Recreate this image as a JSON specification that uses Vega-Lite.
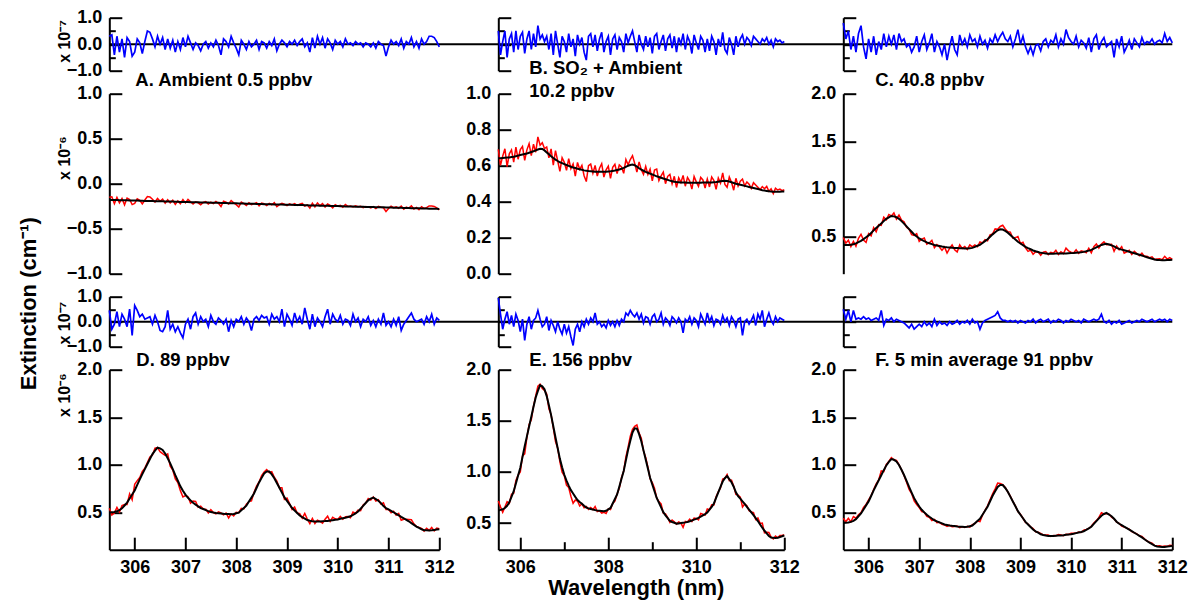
{
"$schema":"https://vega.github.io/schema/vega-lite/v6.json",
"background":"white",
"padding":{"left":17.3,"top":8.7,"right":0,"bottom":8},
"title":{"text":"Extinction (cm⁻¹)","orient":"left","anchor":"middle","fontSize":22,"offset":16},
"config":{
"view":{"stroke":null},
"font":"Liberation Sans",
"axis":{"labelFont":"Liberation Sans","labelFontSize":18,"labelFontWeight":"bold","labelColor":"#000","domainColor":"#000","domainWidth":2,"tickColor":"#000","tickWidth":2,"grid":false,"labelFlush":false,"labelOverlap":false,"tickCount":20,"titleFont":"Liberation Sans","titleFontWeight":"bold","titleColor":"#000"},
"title":{"font":"Liberation Sans","fontSize":18.5,"fontWeight":"bold","color":"#000"}
},
"datasets":{
"A":[
{"w":305.5,"f":-0.180,"r":0.3,"d":-0.150},{"w":305.55,"f":-0.181,"r":0.35,"d":-0.146},{"w":305.6,"f":-0.182,"r":-0.4,"d":-0.222},{"w":305.65,"f":-0.182,"r":0.3,"d":-0.152},{"w":305.7,"f":-0.183,"r":-0.3,"d":-0.213},{"w":305.75,"f":-0.184,"r":0.2,"d":-0.164},{"w":305.8,"f":-0.185,"r":-0.5,"d":-0.235},{"w":305.85,"f":-0.185,"r":0.25,"d":-0.160},{"w":305.9,"f":-0.186,"r":0.1,"d":-0.176},{"w":305.95,"f":-0.187,"r":-0.45,"d":-0.232},
{"w":306,"f":-0.188,"r":-0.3,"d":-0.218},{"w":306.05,"f":-0.188,"r":0.2,"d":-0.168},{"w":306.1,"f":-0.189,"r":0.05,"d":-0.184},{"w":306.15,"f":-0.190,"r":-0.35,"d":-0.225},{"w":306.2,"f":-0.191,"r":0.1,"d":-0.181},{"w":306.25,"f":-0.192,"r":0.5,"d":-0.142},{"w":306.3,"f":-0.192,"r":0.45,"d":-0.147},{"w":306.35,"f":-0.193,"r":0.2,"d":-0.173},{"w":306.4,"f":-0.194,"r":-0.1,"d":-0.204},{"w":306.45,"f":-0.195,"r":0.3,"d":-0.165},
{"w":306.5,"f":-0.195,"r":0.0,"d":-0.195},{"w":306.55,"f":-0.196,"r":0.25,"d":-0.171},{"w":306.6,"f":-0.197,"r":-0.2,"d":-0.217},{"w":306.65,"f":-0.198,"r":0.2,"d":-0.178},{"w":306.7,"f":-0.198,"r":-0.15,"d":-0.213},{"w":306.75,"f":-0.199,"r":0.15,"d":-0.184},{"w":306.8,"f":-0.200,"r":-0.3,"d":-0.230},{"w":306.85,"f":-0.201,"r":0.1,"d":-0.191},{"w":306.9,"f":-0.202,"r":-0.2,"d":-0.222},{"w":306.95,"f":-0.202,"r":0.25,"d":-0.177},
{"w":307,"f":-0.203,"r":-0.1,"d":-0.213},{"w":307.05,"f":-0.204,"r":0.3,"d":-0.174},{"w":307.1,"f":-0.205,"r":0.05,"d":-0.200},{"w":307.15,"f":-0.205,"r":-0.2,"d":-0.225},{"w":307.2,"f":-0.206,"r":0.05,"d":-0.201},{"w":307.25,"f":-0.207,"r":-0.05,"d":-0.212},{"w":307.3,"f":-0.208,"r":-0.25,"d":-0.233},{"w":307.35,"f":-0.208,"r":0.0,"d":-0.208},{"w":307.4,"f":-0.209,"r":0.1,"d":-0.199},{"w":307.45,"f":-0.210,"r":-0.15,"d":-0.225},
{"w":307.5,"f":-0.211,"r":0.05,"d":-0.206},{"w":307.55,"f":-0.212,"r":-0.1,"d":-0.222},{"w":307.6,"f":-0.212,"r":0.15,"d":-0.197},{"w":307.65,"f":-0.213,"r":-0.05,"d":-0.218},{"w":307.7,"f":-0.214,"r":-0.4,"d":-0.254},{"w":307.75,"f":-0.215,"r":0.2,"d":-0.195},{"w":307.8,"f":-0.215,"r":0.1,"d":-0.205},{"w":307.85,"f":-0.216,"r":-0.1,"d":-0.226},{"w":307.9,"f":-0.217,"r":0.3,"d":-0.187},{"w":307.95,"f":-0.218,"r":0.05,"d":-0.213},
{"w":308,"f":-0.218,"r":-0.15,"d":-0.233},{"w":308.05,"f":-0.219,"r":-0.4,"d":-0.259},{"w":308.1,"f":-0.220,"r":0.15,"d":-0.205},{"w":308.15,"f":-0.221,"r":0.0,"d":-0.221},{"w":308.2,"f":-0.222,"r":-0.2,"d":-0.242},{"w":308.25,"f":-0.222,"r":0.1,"d":-0.212},{"w":308.3,"f":-0.223,"r":-0.1,"d":-0.233},{"w":308.35,"f":-0.224,"r":0.0,"d":-0.224},{"w":308.4,"f":-0.225,"r":0.15,"d":-0.210},{"w":308.45,"f":-0.225,"r":-0.2,"d":-0.245},
{"w":308.5,"f":-0.226,"r":0.1,"d":-0.216},{"w":308.55,"f":-0.227,"r":0.05,"d":-0.222},{"w":308.6,"f":-0.228,"r":-0.15,"d":-0.243},{"w":308.65,"f":-0.228,"r":0.1,"d":-0.218},{"w":308.7,"f":-0.229,"r":-0.05,"d":-0.234},{"w":308.75,"f":-0.230,"r":0.2,"d":-0.210},{"w":308.8,"f":-0.231,"r":-0.25,"d":-0.256},{"w":308.85,"f":-0.232,"r":0.0,"d":-0.232},{"w":308.9,"f":-0.232,"r":0.15,"d":-0.217},{"w":308.95,"f":-0.233,"r":0.05,"d":-0.228},
{"w":309,"f":-0.234,"r":-0.1,"d":-0.244},{"w":309.05,"f":-0.235,"r":0.1,"d":-0.225},{"w":309.1,"f":-0.235,"r":0.0,"d":-0.235},{"w":309.15,"f":-0.236,"r":0.15,"d":-0.221},{"w":309.2,"f":-0.237,"r":-0.05,"d":-0.242},{"w":309.25,"f":-0.238,"r":0.1,"d":-0.228},{"w":309.3,"f":-0.238,"r":0.2,"d":-0.218},{"w":309.35,"f":-0.239,"r":-0.1,"d":-0.249},{"w":309.4,"f":-0.240,"r":0.05,"d":-0.235},{"w":309.45,"f":-0.241,"r":-0.3,"d":-0.271},
{"w":309.5,"f":-0.242,"r":0.25,"d":-0.217},{"w":309.55,"f":-0.242,"r":-0.15,"d":-0.257},{"w":309.6,"f":-0.243,"r":0.3,"d":-0.213},{"w":309.65,"f":-0.244,"r":0.0,"d":-0.244},{"w":309.7,"f":-0.245,"r":0.25,"d":-0.220},{"w":309.75,"f":-0.245,"r":-0.15,"d":-0.260},{"w":309.8,"f":-0.246,"r":0.2,"d":-0.226},{"w":309.85,"f":-0.247,"r":0.05,"d":-0.242},{"w":309.9,"f":-0.248,"r":-0.2,"d":-0.268},{"w":309.95,"f":-0.248,"r":0.15,"d":-0.233},
{"w":310,"f":-0.249,"r":0.0,"d":-0.249},{"w":310.05,"f":-0.250,"r":0.1,"d":-0.240},{"w":310.1,"f":-0.251,"r":-0.1,"d":-0.261},{"w":310.15,"f":-0.252,"r":0.2,"d":-0.232},{"w":310.2,"f":-0.252,"r":0.0,"d":-0.252},{"w":310.25,"f":-0.253,"r":0.05,"d":-0.248},{"w":310.3,"f":-0.254,"r":-0.05,"d":-0.259},{"w":310.35,"f":-0.255,"r":0.1,"d":-0.245},{"w":310.4,"f":-0.255,"r":0.0,"d":-0.255},{"w":310.45,"f":-0.256,"r":0.05,"d":-0.251},
{"w":310.5,"f":-0.257,"r":-0.1,"d":-0.267},{"w":310.55,"f":-0.258,"r":0.05,"d":-0.253},{"w":310.6,"f":-0.258,"r":0.0,"d":-0.258},{"w":310.65,"f":-0.259,"r":-0.1,"d":-0.269},{"w":310.7,"f":-0.260,"r":0.05,"d":-0.255},{"w":310.75,"f":-0.261,"r":-0.15,"d":-0.276},{"w":310.8,"f":-0.262,"r":0.1,"d":-0.252},{"w":310.85,"f":-0.262,"r":0.0,"d":-0.262},{"w":310.9,"f":-0.263,"r":-0.05,"d":-0.268},{"w":310.95,"f":-0.264,"r":-0.45,"d":-0.309},
{"w":311,"f":-0.265,"r":-0.1,"d":-0.275},{"w":311.05,"f":-0.265,"r":0.15,"d":-0.250},{"w":311.1,"f":-0.266,"r":0.0,"d":-0.266},{"w":311.15,"f":-0.267,"r":0.1,"d":-0.257},{"w":311.2,"f":-0.268,"r":-0.05,"d":-0.273},{"w":311.25,"f":-0.268,"r":0.2,"d":-0.248},{"w":311.3,"f":-0.269,"r":-0.15,"d":-0.284},{"w":311.35,"f":-0.270,"r":0.1,"d":-0.260},{"w":311.4,"f":-0.271,"r":0.0,"d":-0.271},{"w":311.45,"f":-0.272,"r":0.25,"d":-0.247},
{"w":311.5,"f":-0.272,"r":-0.1,"d":-0.282},{"w":311.55,"f":-0.273,"r":0.1,"d":-0.263},{"w":311.6,"f":-0.274,"r":-0.15,"d":-0.289},{"w":311.65,"f":-0.275,"r":0.2,"d":-0.255},{"w":311.7,"f":-0.275,"r":0.0,"d":-0.275},{"w":311.75,"f":-0.276,"r":0.1,"d":-0.266},{"w":311.8,"f":-0.277,"r":0.3,"d":-0.247},{"w":311.85,"f":-0.278,"r":0.3,"d":-0.248},{"w":311.9,"f":-0.278,"r":0.25,"d":-0.253},{"w":311.95,"f":-0.279,"r":0.1,"d":-0.269},
{"w":312,"f":-0.280,"r":-0.1,"d":-0.290}
],
"B":[
{"w":305.5,"f":0.641,"r":0.5,"d":0.691},{"w":305.55,"f":0.642,"r":-0.4,"d":0.602},{"w":305.6,"f":0.643,"r":0.1,"d":0.653},{"w":305.65,"f":0.644,"r":0.5,"d":0.694},{"w":305.7,"f":0.645,"r":-0.5,"d":0.595},{"w":305.75,"f":0.646,"r":0.2,"d":0.666},{"w":305.8,"f":0.648,"r":0.4,"d":0.688},{"w":305.85,"f":0.650,"r":-0.3,"d":0.620},{"w":305.9,"f":0.653,"r":0.5,"d":0.703},{"w":305.95,"f":0.656,"r":-0.2,"d":0.636},
{"w":306,"f":0.659,"r":0.3,"d":0.689},{"w":306.05,"f":0.662,"r":0.45,"d":0.707},{"w":306.1,"f":0.665,"r":-0.35,"d":0.630},{"w":306.15,"f":0.668,"r":0.2,"d":0.688},{"w":306.2,"f":0.672,"r":0.5,"d":0.722},{"w":306.25,"f":0.676,"r":-0.2,"d":0.656},{"w":306.3,"f":0.680,"r":0.4,"d":0.720},{"w":306.35,"f":0.685,"r":-0.1,"d":0.675},{"w":306.4,"f":0.690,"r":0.7,"d":0.760},{"w":306.45,"f":0.694,"r":0.2,"d":0.714},
{"w":306.5,"f":0.693,"r":0.35,"d":0.728},{"w":306.55,"f":0.685,"r":0.1,"d":0.695},{"w":306.6,"f":0.674,"r":0.3,"d":0.704},{"w":306.65,"f":0.664,"r":-0.2,"d":0.644},{"w":306.7,"f":0.653,"r":0.4,"d":0.693},{"w":306.75,"f":0.643,"r":-0.4,"d":0.603},{"w":306.8,"f":0.634,"r":0.5,"d":0.684},{"w":306.85,"f":0.626,"r":0.0,"d":0.626},{"w":306.9,"f":0.619,"r":-0.5,"d":0.569},{"w":306.95,"f":0.614,"r":0.3,"d":0.644},
{"w":307,"f":0.609,"r":0.1,"d":0.619},{"w":307.05,"f":0.604,"r":-0.3,"d":0.574},{"w":307.1,"f":0.599,"r":0.4,"d":0.639},{"w":307.15,"f":0.594,"r":-0.1,"d":0.584},{"w":307.2,"f":0.590,"r":0.2,"d":0.610},{"w":307.25,"f":0.587,"r":-0.45,"d":0.542},{"w":307.3,"f":0.583,"r":0.35,"d":0.618},{"w":307.35,"f":0.580,"r":0.0,"d":0.580},{"w":307.4,"f":0.577,"r":0.25,"d":0.602},{"w":307.45,"f":0.574,"r":-0.3,"d":0.544},
{"w":307.5,"f":0.572,"r":-0.6,"d":0.512},{"w":307.55,"f":0.570,"r":0.3,"d":0.600},{"w":307.6,"f":0.569,"r":0.4,"d":0.609},{"w":307.65,"f":0.568,"r":-0.1,"d":0.558},{"w":307.7,"f":0.567,"r":0.35,"d":0.602},{"w":307.75,"f":0.567,"r":-0.25,"d":0.542},{"w":307.8,"f":0.566,"r":0.2,"d":0.586},{"w":307.85,"f":0.566,"r":0.45,"d":0.611},{"w":307.9,"f":0.567,"r":-0.3,"d":0.537},{"w":307.95,"f":0.567,"r":0.1,"d":0.577},
{"w":308,"f":0.568,"r":0.3,"d":0.598},{"w":308.05,"f":0.569,"r":-0.4,"d":0.529},{"w":308.1,"f":0.571,"r":0.2,"d":0.591},{"w":308.15,"f":0.573,"r":0.35,"d":0.608},{"w":308.2,"f":0.576,"r":-0.2,"d":0.556},{"w":308.25,"f":0.579,"r":0.25,"d":0.604},{"w":308.3,"f":0.583,"r":0.1,"d":0.593},{"w":308.35,"f":0.588,"r":-0.3,"d":0.558},{"w":308.4,"f":0.594,"r":0.4,"d":0.634},{"w":308.45,"f":0.600,"r":0.05,"d":0.605},
{"w":308.5,"f":0.604,"r":0.3,"d":0.634},{"w":308.55,"f":0.606,"r":0.5,"d":0.656},{"w":308.6,"f":0.603,"r":0.1,"d":0.613},{"w":308.65,"f":0.595,"r":-0.3,"d":0.565},{"w":308.7,"f":0.586,"r":0.35,"d":0.621},{"w":308.75,"f":0.578,"r":0.0,"d":0.578},{"w":308.8,"f":0.572,"r":-0.2,"d":0.552},{"w":308.85,"f":0.566,"r":0.3,"d":0.596},{"w":308.9,"f":0.561,"r":-0.1,"d":0.551},{"w":308.95,"f":0.556,"r":0.25,"d":0.581},
{"w":309,"f":0.551,"r":-0.35,"d":0.516},{"w":309.05,"f":0.546,"r":0.3,"d":0.576},{"w":309.1,"f":0.541,"r":0.4,"d":0.581},{"w":309.15,"f":0.537,"r":-0.2,"d":0.517},{"w":309.2,"f":0.533,"r":0.1,"d":0.543},{"w":309.25,"f":0.529,"r":0.35,"d":0.564},{"w":309.3,"f":0.525,"r":-0.25,"d":0.500},{"w":309.35,"f":0.521,"r":0.2,"d":0.541},{"w":309.4,"f":0.517,"r":0.35,"d":0.552},{"w":309.45,"f":0.514,"r":-0.15,"d":0.499},
{"w":309.5,"f":0.511,"r":0.3,"d":0.541},{"w":309.55,"f":0.509,"r":-0.3,"d":0.479},{"w":309.6,"f":0.508,"r":0.25,"d":0.533},{"w":309.65,"f":0.507,"r":0.0,"d":0.507},{"w":309.7,"f":0.506,"r":0.4,"d":0.546},{"w":309.75,"f":0.506,"r":-0.2,"d":0.486},{"w":309.8,"f":0.505,"r":0.3,"d":0.535},{"w":309.85,"f":0.505,"r":0.1,"d":0.515},{"w":309.9,"f":0.505,"r":-0.35,"d":0.470},{"w":309.95,"f":0.505,"r":0.35,"d":0.540},
{"w":310,"f":0.505,"r":0.05,"d":0.510},{"w":310.05,"f":0.505,"r":-0.2,"d":0.485},{"w":310.1,"f":0.505,"r":0.3,"d":0.535},{"w":310.15,"f":0.506,"r":0.15,"d":0.521},{"w":310.2,"f":0.506,"r":-0.3,"d":0.476},{"w":310.25,"f":0.506,"r":0.2,"d":0.526},{"w":310.3,"f":0.507,"r":-0.25,"d":0.482},{"w":310.35,"f":0.507,"r":0.3,"d":0.537},{"w":310.4,"f":0.508,"r":0.1,"d":0.518},{"w":310.45,"f":0.509,"r":-0.4,"d":0.469},
{"w":310.5,"f":0.511,"r":0.2,"d":0.531},{"w":310.55,"f":0.513,"r":-0.1,"d":0.503},{"w":310.6,"f":0.515,"r":0.45,"d":0.560},{"w":310.65,"f":0.516,"r":-0.2,"d":0.496},{"w":310.7,"f":0.515,"r":-0.35,"d":0.480},{"w":310.75,"f":0.512,"r":0.25,"d":0.537},{"w":310.8,"f":0.508,"r":0.0,"d":0.508},{"w":310.85,"f":0.504,"r":-0.4,"d":0.464},{"w":310.9,"f":0.500,"r":0.3,"d":0.530},{"w":310.95,"f":0.497,"r":-0.1,"d":0.487},
{"w":311,"f":0.494,"r":0.2,"d":0.514},{"w":311.05,"f":0.491,"r":0.35,"d":0.526},{"w":311.1,"f":0.488,"r":0.0,"d":0.488},{"w":311.15,"f":0.485,"r":0.25,"d":0.510},{"w":311.2,"f":0.482,"r":0.15,"d":0.497},{"w":311.25,"f":0.479,"r":-0.05,"d":0.474},{"w":311.3,"f":0.476,"r":0.3,"d":0.506},{"w":311.35,"f":0.473,"r":0.2,"d":0.493},{"w":311.4,"f":0.470,"r":0.1,"d":0.480},{"w":311.45,"f":0.467,"r":0.0,"d":0.467},
{"w":311.5,"f":0.464,"r":0.2,"d":0.484},{"w":311.55,"f":0.462,"r":0.1,"d":0.472},{"w":311.6,"f":0.460,"r":0.25,"d":0.485},{"w":311.65,"f":0.458,"r":0.0,"d":0.458},{"w":311.7,"f":0.456,"r":0.15,"d":0.471},{"w":311.75,"f":0.455,"r":-0.1,"d":0.445},{"w":311.8,"f":0.455,"r":0.2,"d":0.475},{"w":311.85,"f":0.455,"r":0.1,"d":0.465},{"w":311.9,"f":0.455,"r":0.15,"d":0.470},{"w":311.95,"f":0.456,"r":0.05,"d":0.461},
{"w":312,"f":0.456,"r":0.1,"d":0.466}
],
"C":[
{"w":305.5,"f":0.410,"r":0.8,"d":0.490},{"w":305.55,"f":0.411,"r":0.2,"d":0.431},{"w":305.6,"f":0.412,"r":0.5,"d":0.462},{"w":305.65,"f":0.414,"r":-0.2,"d":0.394},{"w":305.7,"f":0.419,"r":0.3,"d":0.449},{"w":305.75,"f":0.428,"r":-0.3,"d":0.398},{"w":305.8,"f":0.441,"r":0.4,"d":0.481},{"w":305.85,"f":0.454,"r":0.7,"d":0.524},{"w":305.9,"f":0.473,"r":-0.1,"d":0.463},{"w":305.95,"f":0.493,"r":-0.55,"d":0.438},
{"w":306,"f":0.512,"r":0.2,"d":0.532},{"w":306.05,"f":0.538,"r":-0.3,"d":0.508},{"w":306.1,"f":0.565,"r":0.3,"d":0.595},{"w":306.15,"f":0.590,"r":-0.4,"d":0.550},{"w":306.2,"f":0.614,"r":0.1,"d":0.624},{"w":306.25,"f":0.638,"r":-0.2,"d":0.618},{"w":306.3,"f":0.663,"r":0.4,"d":0.703},{"w":306.35,"f":0.686,"r":-0.1,"d":0.676},{"w":306.4,"f":0.702,"r":0.3,"d":0.732},{"w":306.45,"f":0.716,"r":0.0,"d":0.716},
{"w":306.5,"f":0.712,"r":0.35,"d":0.747},{"w":306.55,"f":0.703,"r":-0.2,"d":0.683},{"w":306.6,"f":0.686,"r":0.4,"d":0.726},{"w":306.65,"f":0.662,"r":0.1,"d":0.672},{"w":306.7,"f":0.636,"r":0.2,"d":0.656},{"w":306.75,"f":0.607,"r":-0.1,"d":0.597},{"w":306.8,"f":0.578,"r":0.0,"d":0.578},{"w":306.85,"f":0.550,"r":-0.3,"d":0.520},{"w":306.9,"f":0.522,"r":-0.1,"d":0.512},{"w":306.95,"f":0.500,"r":0.3,"d":0.530},
{"w":307,"f":0.480,"r":-0.3,"d":0.450},{"w":307.05,"f":0.464,"r":0.1,"d":0.474},{"w":307.1,"f":0.451,"r":0.35,"d":0.486},{"w":307.15,"f":0.439,"r":-0.2,"d":0.419},{"w":307.2,"f":0.430,"r":0.05,"d":0.435},{"w":307.25,"f":0.420,"r":0.4,"d":0.460},{"w":307.3,"f":0.412,"r":-0.3,"d":0.382},{"w":307.35,"f":0.406,"r":0.1,"d":0.416},{"w":307.4,"f":0.401,"r":-0.1,"d":0.391},{"w":307.45,"f":0.395,"r":-0.4,"d":0.355},
{"w":307.5,"f":0.390,"r":0.0,"d":0.390},{"w":307.55,"f":0.387,"r":-0.6,"d":0.327},{"w":307.6,"f":0.385,"r":-0.1,"d":0.375},{"w":307.65,"f":0.383,"r":0.3,"d":0.413},{"w":307.7,"f":0.381,"r":-0.2,"d":0.361},{"w":307.75,"f":0.379,"r":-0.4,"d":0.339},{"w":307.8,"f":0.377,"r":0.35,"d":0.412},{"w":307.85,"f":0.376,"r":0.0,"d":0.376},{"w":307.9,"f":0.375,"r":0.2,"d":0.395},{"w":307.95,"f":0.375,"r":-0.1,"d":0.365},
{"w":308,"f":0.378,"r":0.35,"d":0.413},{"w":308.05,"f":0.381,"r":0.1,"d":0.391},{"w":308.1,"f":0.392,"r":0.2,"d":0.412},{"w":308.15,"f":0.403,"r":-0.1,"d":0.393},{"w":308.2,"f":0.413,"r":0.3,"d":0.443},{"w":308.25,"f":0.432,"r":0.0,"d":0.432},{"w":308.3,"f":0.452,"r":0.15,"d":0.467},{"w":308.35,"f":0.471,"r":-0.15,"d":0.456},{"w":308.4,"f":0.497,"r":0.2,"d":0.517},{"w":308.45,"f":0.523,"r":0.05,"d":0.528},
{"w":308.5,"f":0.545,"r":0.35,"d":0.580},{"w":308.55,"f":0.566,"r":0.1,"d":0.576},{"w":308.6,"f":0.576,"r":0.3,"d":0.606},{"w":308.65,"f":0.574,"r":0.45,"d":0.619},{"w":308.7,"f":0.560,"r":0.2,"d":0.580},{"w":308.75,"f":0.541,"r":0.1,"d":0.551},{"w":308.8,"f":0.517,"r":0.3,"d":0.547},{"w":308.85,"f":0.493,"r":-0.1,"d":0.483},{"w":308.9,"f":0.469,"r":0.2,"d":0.489},{"w":308.95,"f":0.445,"r":0.55,"d":0.500},
{"w":309,"f":0.427,"r":0.0,"d":0.427},{"w":309.05,"f":0.410,"r":0.3,"d":0.440},{"w":309.1,"f":0.392,"r":-0.1,"d":0.382},{"w":309.15,"f":0.379,"r":-0.35,"d":0.344},{"w":309.2,"f":0.367,"r":-0.1,"d":0.357},{"w":309.25,"f":0.354,"r":-0.4,"d":0.314},{"w":309.3,"f":0.345,"r":-0.05,"d":0.340},{"w":309.35,"f":0.337,"r":0.0,"d":0.337},{"w":309.4,"f":0.329,"r":-0.25,"d":0.304},{"w":309.45,"f":0.326,"r":0.1,"d":0.336},
{"w":309.5,"f":0.323,"r":0.2,"d":0.343},{"w":309.55,"f":0.320,"r":-0.1,"d":0.310},{"w":309.6,"f":0.320,"r":0.15,"d":0.335},{"w":309.65,"f":0.320,"r":0.05,"d":0.325},{"w":309.7,"f":0.321,"r":0.35,"d":0.356},{"w":309.75,"f":0.321,"r":-0.1,"d":0.311},{"w":309.8,"f":0.321,"r":0.2,"d":0.341},{"w":309.85,"f":0.322,"r":0.0,"d":0.322},{"w":309.9,"f":0.323,"r":0.55,"d":0.378},{"w":309.95,"f":0.325,"r":0.25,"d":0.350},
{"w":310,"f":0.326,"r":0.1,"d":0.336},{"w":310.05,"f":0.328,"r":0.0,"d":0.328},{"w":310.1,"f":0.331,"r":0.3,"d":0.361},{"w":310.15,"f":0.333,"r":-0.1,"d":0.323},{"w":310.2,"f":0.335,"r":0.15,"d":0.350},{"w":310.25,"f":0.339,"r":0.05,"d":0.344},{"w":310.3,"f":0.345,"r":-0.15,"d":0.330},{"w":310.35,"f":0.352,"r":0.25,"d":0.377},{"w":310.4,"f":0.360,"r":-0.3,"d":0.330},{"w":310.45,"f":0.373,"r":0.2,"d":0.393},
{"w":310.5,"f":0.387,"r":0.35,"d":0.422},{"w":310.55,"f":0.400,"r":-0.2,"d":0.380},{"w":310.6,"f":0.412,"r":0.1,"d":0.422},{"w":310.65,"f":0.420,"r":0.25,"d":0.445},{"w":310.7,"f":0.425,"r":-0.1,"d":0.415},{"w":310.75,"f":0.417,"r":0.0,"d":0.417},{"w":310.8,"f":0.408,"r":0.1,"d":0.418},{"w":310.85,"f":0.396,"r":-0.5,"d":0.346},{"w":310.9,"f":0.381,"r":0.2,"d":0.401},{"w":310.95,"f":0.371,"r":-0.1,"d":0.361},
{"w":311,"f":0.363,"r":0.3,"d":0.393},{"w":311.05,"f":0.356,"r":-0.3,"d":0.326},{"w":311.1,"f":0.349,"r":-0.1,"d":0.339},{"w":311.15,"f":0.341,"r":0.15,"d":0.356},{"w":311.2,"f":0.333,"r":-0.2,"d":0.313},{"w":311.25,"f":0.325,"r":0.2,"d":0.345},{"w":311.3,"f":0.317,"r":0.05,"d":0.322},{"w":311.35,"f":0.309,"r":-0.1,"d":0.299},{"w":311.4,"f":0.301,"r":0.25,"d":0.326},{"w":311.45,"f":0.292,"r":0.0,"d":0.292},
{"w":311.5,"f":0.283,"r":0.1,"d":0.293},{"w":311.55,"f":0.274,"r":0.05,"d":0.279},{"w":311.6,"f":0.267,"r":0.2,"d":0.287},{"w":311.65,"f":0.259,"r":0.0,"d":0.259},{"w":311.7,"f":0.255,"r":0.1,"d":0.265},{"w":311.75,"f":0.253,"r":0.15,"d":0.268},{"w":311.8,"f":0.252,"r":0.05,"d":0.257},{"w":311.85,"f":0.252,"r":0.4,"d":0.292},{"w":311.9,"f":0.253,"r":0.1,"d":0.263},{"w":311.95,"f":0.254,"r":0.25,"d":0.279},
{"w":312,"f":0.256,"r":0.05,"d":0.261}
],
"D":[
{"w":305.5,"f":0.500,"r":0.45,"d":0.545},{"w":305.55,"f":0.504,"r":-0.3,"d":0.474},{"w":305.6,"f":0.506,"r":-0.1,"d":0.496},{"w":305.65,"f":0.513,"r":0.4,"d":0.553},{"w":305.7,"f":0.525,"r":-0.2,"d":0.505},{"w":305.75,"f":0.544,"r":0.3,"d":0.574},{"w":305.8,"f":0.574,"r":0.1,"d":0.584},{"w":305.85,"f":0.604,"r":-0.2,"d":0.584},{"w":305.9,"f":0.647,"r":0.5,"d":0.697},{"w":305.95,"f":0.689,"r":-0.55,"d":0.634},
{"w":306,"f":0.732,"r":0.65,"d":0.797},{"w":306.05,"f":0.790,"r":0.45,"d":0.835},{"w":306.1,"f":0.848,"r":0.2,"d":0.868},{"w":306.15,"f":0.903,"r":0.3,"d":0.933},{"w":306.2,"f":0.956,"r":0.1,"d":0.966},{"w":306.25,"f":1.010,"r":0.15,"d":1.025},{"w":306.3,"f":1.063,"r":0.2,"d":1.083},{"w":306.35,"f":1.114,"r":-0.1,"d":1.104},{"w":306.4,"f":1.151,"r":0.25,"d":1.176},{"w":306.45,"f":1.181,"r":0.0,"d":1.181},
{"w":306.5,"f":1.174,"r":-0.35,"d":1.139},{"w":306.55,"f":1.158,"r":-0.4,"d":1.118},{"w":306.6,"f":1.120,"r":-0.2,"d":1.100},{"w":306.65,"f":1.070,"r":0.45,"d":1.115},{"w":306.7,"f":1.016,"r":-0.3,"d":0.986},{"w":306.75,"f":0.955,"r":-0.1,"d":0.945},{"w":306.8,"f":0.892,"r":-0.4,"d":0.852},{"w":306.85,"f":0.834,"r":-0.2,"d":0.814},{"w":306.9,"f":0.775,"r":-0.45,"d":0.730},{"w":306.95,"f":0.729,"r":-0.65,"d":0.664},
{"w":307,"f":0.688,"r":-0.1,"d":0.678},{"w":307.05,"f":0.655,"r":0.1,"d":0.665},{"w":307.1,"f":0.628,"r":-0.3,"d":0.598},{"w":307.15,"f":0.602,"r":0.2,"d":0.622},{"w":307.2,"f":0.583,"r":0.35,"d":0.618},{"w":307.25,"f":0.565,"r":-0.1,"d":0.555},{"w":307.3,"f":0.547,"r":0.2,"d":0.567},{"w":307.35,"f":0.537,"r":0.0,"d":0.537},{"w":307.4,"f":0.526,"r":0.1,"d":0.536},{"w":307.45,"f":0.515,"r":-0.2,"d":0.495},
{"w":307.5,"f":0.505,"r":0.25,"d":0.530},{"w":307.55,"f":0.500,"r":0.0,"d":0.500},{"w":307.6,"f":0.496,"r":-0.1,"d":0.486},{"w":307.65,"f":0.493,"r":0.15,"d":0.508},{"w":307.7,"f":0.490,"r":0.05,"d":0.495},{"w":307.75,"f":0.487,"r":-0.1,"d":0.477},{"w":307.8,"f":0.485,"r":0.1,"d":0.495},{"w":307.85,"f":0.484,"r":-0.4,"d":0.444},{"w":307.9,"f":0.482,"r":0.05,"d":0.487},{"w":307.95,"f":0.484,"r":-0.2,"d":0.464},
{"w":308,"f":0.492,"r":0.1,"d":0.502},{"w":308.05,"f":0.499,"r":0.0,"d":0.499},{"w":308.1,"f":0.524,"r":0.2,"d":0.544},{"w":308.15,"f":0.548,"r":-0.1,"d":0.538},{"w":308.2,"f":0.572,"r":0.15,"d":0.587},{"w":308.25,"f":0.615,"r":0.0,"d":0.615},{"w":308.3,"f":0.657,"r":-0.35,"d":0.622},{"w":308.35,"f":0.700,"r":0.1,"d":0.710},{"w":308.4,"f":0.758,"r":0.2,"d":0.778},{"w":308.45,"f":0.816,"r":0.05,"d":0.821},
{"w":308.5,"f":0.864,"r":0.25,"d":0.889},{"w":308.55,"f":0.910,"r":0.15,"d":0.925},{"w":308.6,"f":0.931,"r":0.2,"d":0.951},{"w":308.65,"f":0.930,"r":-0.1,"d":0.920},{"w":308.7,"f":0.900,"r":0.3,"d":0.930},{"w":308.75,"f":0.861,"r":0.1,"d":0.871},{"w":308.8,"f":0.810,"r":0.2,"d":0.830},{"w":308.85,"f":0.760,"r":0.0,"d":0.760},{"w":308.9,"f":0.710,"r":0.5,"d":0.760},{"w":308.95,"f":0.659,"r":-0.2,"d":0.639},
{"w":309,"f":0.622,"r":0.3,"d":0.652},{"w":309.05,"f":0.585,"r":0.1,"d":0.595},{"w":309.1,"f":0.548,"r":-0.15,"d":0.533},{"w":309.15,"f":0.522,"r":0.35,"d":0.557},{"w":309.2,"f":0.496,"r":0.0,"d":0.496},{"w":309.25,"f":0.469,"r":0.2,"d":0.489},{"w":309.3,"f":0.451,"r":-0.1,"d":0.441},{"w":309.35,"f":0.436,"r":0.55,"d":0.491},{"w":309.4,"f":0.421,"r":0.1,"d":0.431},{"w":309.45,"f":0.414,"r":-0.3,"d":0.384},
{"w":309.5,"f":0.409,"r":0.3,"d":0.439},{"w":309.55,"f":0.405,"r":-0.2,"d":0.385},{"w":309.6,"f":0.405,"r":0.15,"d":0.420},{"w":309.65,"f":0.407,"r":0.0,"d":0.407},{"w":309.7,"f":0.409,"r":-0.2,"d":0.389},{"w":309.75,"f":0.410,"r":0.2,"d":0.430},{"w":309.8,"f":0.412,"r":0.5,"d":0.462},{"w":309.85,"f":0.416,"r":-0.1,"d":0.406},{"w":309.9,"f":0.420,"r":0.3,"d":0.450},{"w":309.95,"f":0.424,"r":0.1,"d":0.434},
{"w":310,"f":0.428,"r":0.0,"d":0.428},{"w":310.05,"f":0.434,"r":0.25,"d":0.459},{"w":310.1,"f":0.440,"r":-0.1,"d":0.430},{"w":310.15,"f":0.446,"r":0.1,"d":0.456},{"w":310.2,"f":0.453,"r":0.05,"d":0.458},{"w":310.25,"f":0.461,"r":-0.15,"d":0.446},{"w":310.3,"f":0.476,"r":0.3,"d":0.506},{"w":310.35,"f":0.492,"r":0.0,"d":0.492},{"w":310.4,"f":0.510,"r":0.15,"d":0.525},{"w":310.45,"f":0.540,"r":-0.2,"d":0.520},
{"w":310.5,"f":0.570,"r":0.1,"d":0.580},{"w":310.55,"f":0.600,"r":0.0,"d":0.600},{"w":310.6,"f":0.628,"r":0.2,"d":0.648},{"w":310.65,"f":0.647,"r":-0.15,"d":0.632},{"w":310.7,"f":0.658,"r":0.05,"d":0.663},{"w":310.75,"f":0.641,"r":-0.2,"d":0.621},{"w":310.8,"f":0.624,"r":0.1,"d":0.634},{"w":310.85,"f":0.599,"r":-0.1,"d":0.589},{"w":310.9,"f":0.568,"r":0.35,"d":0.603},{"w":310.95,"f":0.547,"r":-0.15,"d":0.532},
{"w":311,"f":0.533,"r":0.0,"d":0.533},{"w":311.05,"f":0.518,"r":-0.2,"d":0.498},{"w":311.1,"f":0.503,"r":0.1,"d":0.513},{"w":311.15,"f":0.487,"r":-0.15,"d":0.472},{"w":311.2,"f":0.471,"r":0.2,"d":0.491},{"w":311.25,"f":0.455,"r":-0.35,"d":0.420},{"w":311.3,"f":0.440,"r":-0.1,"d":0.430},{"w":311.35,"f":0.424,"r":0.05,"d":0.429},{"w":311.4,"f":0.408,"r":0.2,"d":0.428},{"w":311.45,"f":0.389,"r":0.35,"d":0.424},
{"w":311.5,"f":0.371,"r":0.1,"d":0.381},{"w":311.55,"f":0.353,"r":0.0,"d":0.353},{"w":311.6,"f":0.339,"r":0.05,"d":0.344},{"w":311.65,"f":0.324,"r":0.1,"d":0.334},{"w":311.7,"f":0.315,"r":-0.1,"d":0.305},{"w":311.75,"f":0.314,"r":0.2,"d":0.334},{"w":311.8,"f":0.312,"r":0.0,"d":0.312},{"w":311.85,"f":0.313,"r":0.3,"d":0.343},{"w":311.9,"f":0.317,"r":-0.1,"d":0.307},{"w":311.95,"f":0.321,"r":0.15,"d":0.336},
{"w":312,"f":0.325,"r":0.05,"d":0.330}
],
"E":[
{"w":305.5,"f":0.622,"r":0.95,"d":0.717},{"w":305.55,"f":0.629,"r":0.3,"d":0.659},{"w":305.6,"f":0.635,"r":-0.3,"d":0.605},{"w":305.65,"f":0.647,"r":0.1,"d":0.657},{"w":305.7,"f":0.669,"r":0.4,"d":0.709},{"w":305.75,"f":0.703,"r":-0.1,"d":0.693},{"w":305.8,"f":0.757,"r":0.25,"d":0.782},{"w":305.85,"f":0.812,"r":-0.2,"d":0.792},{"w":305.9,"f":0.888,"r":0.3,"d":0.918},{"w":305.95,"f":0.965,"r":0.05,"d":0.970},
{"w":306,"f":1.041,"r":-0.4,"d":1.001},{"w":306.05,"f":1.146,"r":0.1,"d":1.156},{"w":306.1,"f":1.251,"r":-0.75,"d":1.176},{"w":306.15,"f":1.348,"r":-0.1,"d":1.338},{"w":306.2,"f":1.444,"r":0.2,"d":1.464},{"w":306.25,"f":1.540,"r":-0.3,"d":1.510},{"w":306.3,"f":1.637,"r":0.05,"d":1.642},{"w":306.35,"f":1.728,"r":0.15,"d":1.743},{"w":306.4,"f":1.793,"r":0.45,"d":1.838},{"w":306.45,"f":1.848,"r":0.1,"d":1.858},
{"w":306.5,"f":1.837,"r":-0.2,"d":1.817},{"w":306.55,"f":1.808,"r":-0.1,"d":1.798},{"w":306.6,"f":1.742,"r":0.2,"d":1.762},{"w":306.65,"f":1.653,"r":-0.35,"d":1.618},{"w":306.7,"f":1.556,"r":0.05,"d":1.561},{"w":306.75,"f":1.447,"r":-0.15,"d":1.432},{"w":306.8,"f":1.337,"r":-0.4,"d":1.297},{"w":306.85,"f":1.232,"r":0.0,"d":1.232},{"w":306.9,"f":1.128,"r":-0.3,"d":1.098},{"w":306.95,"f":1.047,"r":-0.5,"d":0.997},
{"w":307,"f":0.973,"r":-0.1,"d":0.963},{"w":307.05,"f":0.915,"r":-0.45,"d":0.870},{"w":307.1,"f":0.867,"r":-0.2,"d":0.847},{"w":307.15,"f":0.822,"r":-0.6,"d":0.762},{"w":307.2,"f":0.789,"r":-0.95,"d":0.694},{"w":307.25,"f":0.756,"r":-0.3,"d":0.726},{"w":307.3,"f":0.726,"r":-0.1,"d":0.716},{"w":307.35,"f":0.707,"r":-0.4,"d":0.667},{"w":307.4,"f":0.689,"r":0.0,"d":0.689},{"w":307.45,"f":0.670,"r":-0.2,"d":0.650},
{"w":307.5,"f":0.652,"r":0.1,"d":0.662},{"w":307.55,"f":0.644,"r":-0.1,"d":0.634},{"w":307.6,"f":0.638,"r":0.15,"d":0.653},{"w":307.65,"f":0.632,"r":0.0,"d":0.632},{"w":307.7,"f":0.627,"r":0.35,"d":0.662},{"w":307.75,"f":0.622,"r":-0.1,"d":0.612},{"w":307.8,"f":0.620,"r":0.0,"d":0.620},{"w":307.85,"f":0.618,"r":-0.2,"d":0.598},{"w":307.9,"f":0.616,"r":-0.1,"d":0.606},{"w":307.95,"f":0.620,"r":-0.25,"d":0.595},
{"w":308,"f":0.634,"r":0.05,"d":0.639},{"w":308.05,"f":0.648,"r":-0.15,"d":0.633},{"w":308.1,"f":0.692,"r":0.0,"d":0.692},{"w":308.15,"f":0.736,"r":-0.2,"d":0.716},{"w":308.2,"f":0.780,"r":0.05,"d":0.785},{"w":308.25,"f":0.856,"r":-0.15,"d":0.841},{"w":308.3,"f":0.933,"r":0.1,"d":0.943},{"w":308.35,"f":1.009,"r":0.0,"d":1.009},{"w":308.4,"f":1.113,"r":0.35,"d":1.148},{"w":308.45,"f":1.217,"r":0.25,"d":1.242},
{"w":308.5,"f":1.304,"r":0.45,"d":1.349},{"w":308.55,"f":1.386,"r":0.3,"d":1.416},{"w":308.6,"f":1.426,"r":0.2,"d":1.446},{"w":308.65,"f":1.424,"r":0.35,"d":1.459},{"w":308.7,"f":1.370,"r":0.1,"d":1.380},{"w":308.75,"f":1.301,"r":0.3,"d":1.331},{"w":308.8,"f":1.211,"r":-0.05,"d":1.206},{"w":308.85,"f":1.122,"r":0.2,"d":1.142},{"w":308.9,"f":1.033,"r":0.15,"d":1.048},{"w":308.95,"f":0.943,"r":-0.1,"d":0.933},
{"w":309,"f":0.877,"r":0.2,"d":0.897},{"w":309.05,"f":0.812,"r":0.3,"d":0.842},{"w":309.1,"f":0.746,"r":0.0,"d":0.746},{"w":309.15,"f":0.700,"r":0.1,"d":0.710},{"w":309.2,"f":0.654,"r":0.35,"d":0.689},{"w":309.25,"f":0.607,"r":-0.1,"d":0.597},{"w":309.3,"f":0.576,"r":0.15,"d":0.591},{"w":309.35,"f":0.549,"r":0.05,"d":0.554},{"w":309.4,"f":0.522,"r":-0.15,"d":0.507},{"w":309.45,"f":0.511,"r":0.2,"d":0.531},
{"w":309.5,"f":0.503,"r":0.1,"d":0.513},{"w":309.55,"f":0.495,"r":-0.05,"d":0.490},{"w":309.6,"f":0.497,"r":0.15,"d":0.512},{"w":309.65,"f":0.500,"r":0.0,"d":0.500},{"w":309.7,"f":0.504,"r":-0.45,"d":0.459},{"w":309.75,"f":0.507,"r":0.1,"d":0.517},{"w":309.8,"f":0.511,"r":0.0,"d":0.511},{"w":309.85,"f":0.518,"r":0.2,"d":0.538},{"w":309.9,"f":0.526,"r":-0.1,"d":0.516},{"w":309.95,"f":0.534,"r":0.15,"d":0.549},
{"w":310,"f":0.541,"r":0.05,"d":0.546},{"w":310.05,"f":0.552,"r":-0.2,"d":0.532},{"w":310.1,"f":0.564,"r":0.3,"d":0.594},{"w":310.15,"f":0.576,"r":0.1,"d":0.586},{"w":310.2,"f":0.588,"r":-0.1,"d":0.578},{"w":310.25,"f":0.604,"r":0.35,"d":0.639},{"w":310.3,"f":0.631,"r":0.0,"d":0.631},{"w":310.35,"f":0.659,"r":0.2,"d":0.679},{"w":310.4,"f":0.692,"r":-0.15,"d":0.677},{"w":310.45,"f":0.747,"r":0.1,"d":0.757},
{"w":310.5,"f":0.801,"r":0.05,"d":0.806},{"w":310.55,"f":0.854,"r":-0.1,"d":0.844},{"w":310.6,"f":0.906,"r":0.25,"d":0.931},{"w":310.65,"f":0.939,"r":0.0,"d":0.939},{"w":310.7,"f":0.960,"r":0.15,"d":0.975},{"w":310.75,"f":0.930,"r":-0.15,"d":0.915},{"w":310.8,"f":0.900,"r":0.2,"d":0.920},{"w":310.85,"f":0.856,"r":0.05,"d":0.861},{"w":310.9,"f":0.801,"r":-0.2,"d":0.781},{"w":310.95,"f":0.764,"r":0.1,"d":0.774},
{"w":311,"f":0.739,"r":0.15,"d":0.754},{"w":311.05,"f":0.713,"r":-0.55,"d":0.658},{"w":311.1,"f":0.687,"r":0.0,"d":0.687},{"w":311.15,"f":0.659,"r":0.1,"d":0.669},{"w":311.2,"f":0.631,"r":-0.1,"d":0.621},{"w":311.25,"f":0.604,"r":0.05,"d":0.609},{"w":311.3,"f":0.577,"r":0.25,"d":0.602},{"w":311.35,"f":0.549,"r":-0.15,"d":0.534},{"w":311.4,"f":0.520,"r":0.3,"d":0.550},{"w":311.45,"f":0.487,"r":0.1,"d":0.497},
{"w":311.5,"f":0.455,"r":0.45,"d":0.500},{"w":311.55,"f":0.425,"r":-0.2,"d":0.405},{"w":311.6,"f":0.400,"r":0.1,"d":0.410},{"w":311.65,"f":0.374,"r":0.35,"d":0.409},{"w":311.7,"f":0.358,"r":0.05,"d":0.363},{"w":311.75,"f":0.356,"r":-0.1,"d":0.346},{"w":311.8,"f":0.354,"r":0.2,"d":0.374},{"w":311.85,"f":0.356,"r":0.0,"d":0.356},{"w":311.9,"f":0.364,"r":0.15,"d":0.379},{"w":311.95,"f":0.371,"r":0.1,"d":0.381},
{"w":312,"f":0.379,"r":0.05,"d":0.384}
],
"F":[
{"w":305.5,"f":0.390,"r":0.5,"d":0.440},{"w":305.55,"f":0.393,"r":0.1,"d":0.403},{"w":305.6,"f":0.395,"r":0.45,"d":0.440},{"w":305.65,"f":0.402,"r":0.0,"d":0.402},{"w":305.7,"f":0.413,"r":0.45,"d":0.458},{"w":305.75,"f":0.431,"r":0.1,"d":0.441},{"w":305.8,"f":0.461,"r":0.15,"d":0.476},{"w":305.85,"f":0.490,"r":0.1,"d":0.500},{"w":305.9,"f":0.533,"r":0.2,"d":0.553},{"w":305.95,"f":0.575,"r":0.1,"d":0.585},
{"w":306,"f":0.617,"r":0.15,"d":0.632},{"w":306.05,"f":0.674,"r":0.05,"d":0.679},{"w":306.1,"f":0.732,"r":0.1,"d":0.742},{"w":306.15,"f":0.787,"r":0.15,"d":0.802},{"w":306.2,"f":0.839,"r":0.05,"d":0.844},{"w":306.25,"f":0.892,"r":0.45,"d":0.937},{"w":306.3,"f":0.945,"r":-0.15,"d":0.930},{"w":306.35,"f":0.995,"r":0.1,"d":1.005},{"w":306.4,"f":1.032,"r":0.05,"d":1.037},{"w":306.45,"f":1.062,"r":0.15,"d":1.077},
{"w":306.5,"f":1.054,"r":0.0,"d":1.054},{"w":306.55,"f":1.037,"r":0.1,"d":1.047},{"w":306.6,"f":0.999,"r":0.05,"d":1.004},{"w":306.65,"f":0.949,"r":0.0,"d":0.949},{"w":306.7,"f":0.894,"r":-0.05,"d":0.889},{"w":306.75,"f":0.832,"r":-0.15,"d":0.817},{"w":306.8,"f":0.769,"r":-0.25,"d":0.744},{"w":306.85,"f":0.710,"r":-0.1,"d":0.700},{"w":306.9,"f":0.651,"r":-0.3,"d":0.621},{"w":306.95,"f":0.605,"r":-0.2,"d":0.585},
{"w":307,"f":0.563,"r":-0.1,"d":0.553},{"w":307.05,"f":0.529,"r":-0.2,"d":0.509},{"w":307.1,"f":0.502,"r":0.0,"d":0.502},{"w":307.15,"f":0.476,"r":-0.15,"d":0.461},{"w":307.2,"f":0.456,"r":-0.05,"d":0.451},{"w":307.25,"f":0.437,"r":-0.2,"d":0.417},{"w":307.3,"f":0.419,"r":0.1,"d":0.429},{"w":307.35,"f":0.408,"r":-0.15,"d":0.393},{"w":307.4,"f":0.397,"r":0.0,"d":0.397},{"w":307.45,"f":0.386,"r":-0.1,"d":0.376},
{"w":307.5,"f":0.375,"r":-0.05,"d":0.370},{"w":307.55,"f":0.370,"r":-0.15,"d":0.355},{"w":307.6,"f":0.365,"r":0.0,"d":0.365},{"w":307.65,"f":0.361,"r":-0.1,"d":0.351},{"w":307.7,"f":0.358,"r":-0.05,"d":0.353},{"w":307.75,"f":0.354,"r":0.05,"d":0.359},{"w":307.8,"f":0.352,"r":-0.1,"d":0.342},{"w":307.85,"f":0.350,"r":0.0,"d":0.350},{"w":307.9,"f":0.348,"r":-0.05,"d":0.343},{"w":307.95,"f":0.350,"r":0.05,"d":0.355},
{"w":308,"f":0.357,"r":-0.1,"d":0.347},{"w":308.05,"f":0.364,"r":0.1,"d":0.374},{"w":308.1,"f":0.388,"r":-0.05,"d":0.383},{"w":308.15,"f":0.411,"r":0.0,"d":0.411},{"w":308.2,"f":0.435,"r":-0.3,"d":0.405},{"w":308.25,"f":0.477,"r":-0.05,"d":0.472},{"w":308.3,"f":0.519,"r":0.05,"d":0.524},{"w":308.35,"f":0.561,"r":0.1,"d":0.571},{"w":308.4,"f":0.619,"r":0.15,"d":0.634},{"w":308.45,"f":0.676,"r":0.2,"d":0.696},
{"w":308.5,"f":0.724,"r":0.25,"d":0.749},{"w":308.55,"f":0.769,"r":0.4,"d":0.809},{"w":308.6,"f":0.790,"r":0.15,"d":0.805},{"w":308.65,"f":0.789,"r":0.05,"d":0.794},{"w":308.7,"f":0.758,"r":0.05,"d":0.763},{"w":308.75,"f":0.718,"r":0.0,"d":0.718},{"w":308.8,"f":0.667,"r":0.05,"d":0.672},{"w":308.85,"f":0.616,"r":0.0,"d":0.616},{"w":308.9,"f":0.566,"r":0.05,"d":0.571},{"w":308.95,"f":0.515,"r":-0.05,"d":0.510},
{"w":309,"f":0.477,"r":0.05,"d":0.482},{"w":309.05,"f":0.440,"r":0.0,"d":0.440},{"w":309.1,"f":0.402,"r":-0.05,"d":0.397},{"w":309.15,"f":0.375,"r":0.05,"d":0.380},{"w":309.2,"f":0.349,"r":0.0,"d":0.349},{"w":309.25,"f":0.322,"r":0.1,"d":0.332},{"w":309.3,"f":0.303,"r":-0.05,"d":0.298},{"w":309.35,"f":0.288,"r":0.05,"d":0.293},{"w":309.4,"f":0.272,"r":0.1,"d":0.282},{"w":309.45,"f":0.265,"r":0.0,"d":0.265},
{"w":309.5,"f":0.259,"r":0.05,"d":0.264},{"w":309.55,"f":0.254,"r":0.1,"d":0.264},{"w":309.6,"f":0.254,"r":-0.05,"d":0.249},{"w":309.65,"f":0.255,"r":0.05,"d":0.260},{"w":309.7,"f":0.257,"r":0.0,"d":0.257},{"w":309.75,"f":0.258,"r":0.1,"d":0.268},{"w":309.8,"f":0.259,"r":0.05,"d":0.264},{"w":309.85,"f":0.262,"r":-0.05,"d":0.257},{"w":309.9,"f":0.266,"r":0.05,"d":0.271},{"w":309.95,"f":0.270,"r":0.0,"d":0.270},
{"w":310,"f":0.273,"r":0.1,"d":0.283},{"w":310.05,"f":0.278,"r":0.05,"d":0.283},{"w":310.1,"f":0.284,"r":0.0,"d":0.284},{"w":310.15,"f":0.290,"r":0.05,"d":0.295},{"w":310.2,"f":0.296,"r":-0.05,"d":0.291},{"w":310.25,"f":0.304,"r":0.1,"d":0.314},{"w":310.3,"f":0.318,"r":0.05,"d":0.323},{"w":310.35,"f":0.333,"r":0.0,"d":0.333},{"w":310.4,"f":0.351,"r":0.05,"d":0.356},{"w":310.45,"f":0.381,"r":0.1,"d":0.391},
{"w":310.5,"f":0.410,"r":0.05,"d":0.415},{"w":310.55,"f":0.439,"r":0.1,"d":0.449},{"w":310.6,"f":0.467,"r":0.3,"d":0.497},{"w":310.65,"f":0.485,"r":0.0,"d":0.485},{"w":310.7,"f":0.496,"r":-0.05,"d":0.491},{"w":310.75,"f":0.479,"r":0.05,"d":0.484},{"w":310.8,"f":0.461,"r":-0.1,"d":0.451},{"w":310.85,"f":0.435,"r":0.0,"d":0.435},{"w":310.9,"f":0.404,"r":-0.05,"d":0.399},{"w":310.95,"f":0.382,"r":0.05,"d":0.387},
{"w":311,"f":0.368,"r":-0.1,"d":0.358},{"w":311.05,"f":0.352,"r":-0.05,"d":0.347},{"w":311.1,"f":0.337,"r":0.0,"d":0.337},{"w":311.15,"f":0.320,"r":0.05,"d":0.325},{"w":311.2,"f":0.304,"r":-0.05,"d":0.299},{"w":311.25,"f":0.288,"r":0.0,"d":0.288},{"w":311.3,"f":0.272,"r":0.05,"d":0.277},{"w":311.35,"f":0.256,"r":0.0,"d":0.256},{"w":311.4,"f":0.239,"r":0.1,"d":0.249},{"w":311.45,"f":0.219,"r":0.05,"d":0.224},
{"w":311.5,"f":0.201,"r":0.0,"d":0.201},{"w":311.55,"f":0.183,"r":0.05,"d":0.188},{"w":311.6,"f":0.168,"r":0.1,"d":0.178},{"w":311.65,"f":0.153,"r":0.0,"d":0.153},{"w":311.7,"f":0.143,"r":0.05,"d":0.148},{"w":311.75,"f":0.141,"r":0.1,"d":0.151},{"w":311.8,"f":0.139,"r":0.05,"d":0.144},{"w":311.85,"f":0.139,"r":0.1,"d":0.149},{"w":311.9,"f":0.143,"r":0.0,"d":0.143},{"w":311.95,"f":0.146,"r":0.1,"d":0.156},
{"w":312,"f":0.150,"r":0.05,"d":0.155}
]
},
"columns":3,
"bounds":"flush",
"spacing":{"row":23,"column":59},
"concat":[
{"width":330,"height":53,
 "layer":[
  {"data":{"values":[{"z":0}]},"mark":{"type":"rule","color":"#000","strokeWidth":2,"clip":false},
   "encoding":{"x":{"datum":305.5,"type":"quantitative","scale":{"domain":[305.5,312],"nice":false,"zero":false},"axis":null},"x2":{"datum":313.2},
   "y":{"datum":0,"type":"quantitative","scale":{"domain":[-1,1],"nice":false,"zero":false},"axis":{"orient":"left","values":[-0.5,0.5],"tickSize":-6,"labels":false,"domain":false,"title":null}}}},
  {"data":{"name":"A"},"mark":{"type":"line","color":"#0000ff","strokeWidth":1.7},
   "encoding":{"x":{"field":"w","type":"quantitative","scale":{"domain":[305.5,312],"nice":false,"zero":false},"axis":null},
   "y":{"field":"r","type":"quantitative","scale":{"domain":[-1,1],"nice":false,"zero":false},"axis":{"orient":"left","values":[-1,0,1],"format":".1f","tickSize":-12.5,"labelPadding":20,"title":"x 10⁻⁷","titleFontSize":16,"titleX":-44.5,"titleY":23.3,"titleAlign":"center","titleBaseline":"middle","titleAngle":-90}}}}
 ],
 "resolve":{"axis":{"y":"independent"}}},
{"width":286,"height":53,
 "layer":[
  {"data":{"values":[{"z":0}]},"mark":{"type":"rule","color":"#000","strokeWidth":2,"clip":false},
   "encoding":{"x":{"datum":305.5,"type":"quantitative","scale":{"domain":[305.5,312],"nice":false,"zero":false},"axis":null},"x2":{"datum":313.35},
   "y":{"datum":0,"type":"quantitative","scale":{"domain":[-1,1],"nice":false,"zero":false},"axis":{"orient":"left","values":[-0.5,0.5],"tickSize":-6,"labels":false,"domain":false,"title":null}}}},
  {"data":{"name":"B"},"mark":{"type":"line","color":"#0000ff","strokeWidth":1.7},
   "encoding":{"x":{"field":"w","type":"quantitative","scale":{"domain":[305.5,312],"nice":false,"zero":false},"axis":null},
   "y":{"field":"r","type":"quantitative","scale":{"domain":[-1,1],"nice":false,"zero":false},"axis":{"orient":"left","values":[-1,0,1],"tickSize":-12.5,"labels":false,"title":null}}}}
 ],
 "resolve":{"axis":{"y":"independent"}}},
{"width":329,"height":53,
 "layer":[
  {"data":{"values":[{"z":0}]},"mark":{"type":"rule","color":"#000","strokeWidth":2,"clip":false},
   "encoding":{"x":{"datum":305.5,"type":"quantitative","scale":{"domain":[305.5,312],"nice":false,"zero":false},"axis":null},"x2":{"datum":312},
   "y":{"datum":0,"type":"quantitative","scale":{"domain":[-1,1],"nice":false,"zero":false},"axis":{"orient":"left","values":[-0.5,0.5],"tickSize":-6,"labels":false,"domain":false,"title":null}}}},
  {"data":{"name":"C"},"mark":{"type":"line","color":"#0000ff","strokeWidth":1.7},
   "encoding":{"x":{"field":"w","type":"quantitative","scale":{"domain":[305.5,312],"nice":false,"zero":false},"axis":null},
   "y":{"field":"r","type":"quantitative","scale":{"domain":[-1,1],"nice":false,"zero":false},"axis":{"orient":"left","values":[-1,0,1],"tickSize":-12.5,"labels":false,"title":null}}}}
 ],
 "resolve":{"axis":{"y":"independent"}}},
{"width":330,"height":180,"data":{"name":"A"},
 "title":{"text":"A. Ambient 0.5 ppbv","anchor":"start","frame":"group","dx":26,"offset":0,"baseline":"alphabetic","dy":19.8},
 "layer":[
  {"mark":{"type":"line","color":"#ff0000","strokeWidth":1.5},
   "encoding":{"x":{"field":"w","type":"quantitative","scale":{"domain":[305.5,312],"nice":false,"zero":false},"axis":null},
   "y":{"field":"d","type":"quantitative","scale":{"domain":[-1,1],"nice":false,"zero":false},"axis":{"values":[-1,-0.5,0,0.5,1],"format":".1f","tickSize":-12.5,"labelPadding":20,"title":"x 10⁻⁶","titleFontSize":16,"titleX":-44.5,"titleY":64,"titleAlign":"center","titleBaseline":"middle","titleAngle":-90}}}},
  {"mark":{"type":"line","color":"#000","strokeWidth":2},
   "encoding":{"x":{"field":"w","type":"quantitative"},"y":{"field":"f","type":"quantitative"}}}
 ]},
{"width":286,"height":180,"data":{"name":"B"},
 "title":{"text":["B. SO₂ + Ambient","10.2 ppbv"],"anchor":"start","frame":"group","dx":31,"offset":0,"baseline":"alphabetic","dy":31.3,"lineHeight":23},
 "layer":[
  {"mark":{"type":"line","color":"#ff0000","strokeWidth":1.5},
   "encoding":{"x":{"field":"w","type":"quantitative","scale":{"domain":[305.5,312],"nice":false,"zero":false},"axis":null},
   "y":{"field":"d","type":"quantitative","scale":{"domain":[0,1],"nice":false,"zero":false},"axis":{"values":[0,0.2,0.4,0.6,0.8,1],"tickCount":20,"format":".1f","tickSize":-12.5,"labelPadding":20,"title":null}}}},
  {"mark":{"type":"line","color":"#000","strokeWidth":2},
   "encoding":{"x":{"field":"w","type":"quantitative"},"y":{"field":"f","type":"quantitative"}}}
 ]},
{"width":329,"height":180,"data":{"name":"C"},
 "title":{"text":"C. 40.8 ppbv","anchor":"start","frame":"group","dx":32,"offset":0,"baseline":"alphabetic","dy":19.8},
 "layer":[
  {"mark":{"type":"line","color":"#ff0000","strokeWidth":1.5},
   "encoding":{"x":{"field":"w","type":"quantitative","scale":{"domain":[305.5,312],"nice":false,"zero":false},"axis":null},
   "y":{"field":"d","type":"quantitative","scale":{"domain":[0.11,2],"nice":false,"zero":false},"axis":{"values":[0.5,1,1.5,2],"format":".1f","tickSize":-12.5,"labelPadding":20,"title":null}}}},
  {"mark":{"type":"line","color":"#000","strokeWidth":2},
   "encoding":{"x":{"field":"w","type":"quantitative"},"y":{"field":"f","type":"quantitative"}}}
 ]},
{"width":330,"height":50,
 "layer":[
  {"data":{"values":[{"z":0}]},"mark":{"type":"rule","color":"#000","strokeWidth":2,"clip":false},
   "encoding":{"x":{"datum":305.5,"type":"quantitative","scale":{"domain":[305.5,312],"nice":false,"zero":false},"axis":null},"x2":{"datum":313.2},
   "y":{"datum":0,"type":"quantitative","scale":{"domain":[-1,1],"nice":false,"zero":false},"axis":{"orient":"left","values":[-0.5,0.5],"tickSize":-6,"labels":false,"domain":false,"title":null}}}},
  {"data":{"name":"D"},"mark":{"type":"line","color":"#0000ff","strokeWidth":1.7},
   "encoding":{"x":{"field":"w","type":"quantitative","scale":{"domain":[305.5,312],"nice":false,"zero":false},"axis":null},
   "y":{"field":"r","type":"quantitative","scale":{"domain":[-1,1],"nice":false,"zero":false},"axis":{"orient":"left","values":[-1,0,1],"format":".1f","tickSize":-12.5,"labelPadding":20,"title":"x 10⁻⁷","titleFontSize":16,"titleX":-44.5,"titleY":26,"titleAlign":"center","titleBaseline":"middle","titleAngle":-90}}}}
 ],
 "resolve":{"axis":{"y":"independent"}}},
{"width":286,"height":50,
 "layer":[
  {"data":{"values":[{"z":0}]},"mark":{"type":"rule","color":"#000","strokeWidth":2,"clip":false},
   "encoding":{"x":{"datum":305.5,"type":"quantitative","scale":{"domain":[305.5,312],"nice":false,"zero":false},"axis":null},"x2":{"datum":313.35},
   "y":{"datum":0,"type":"quantitative","scale":{"domain":[-1,1],"nice":false,"zero":false},"axis":{"orient":"left","values":[-0.5,0.5],"tickSize":-6,"labels":false,"domain":false,"title":null}}}},
  {"data":{"name":"E"},"mark":{"type":"line","color":"#0000ff","strokeWidth":1.7},
   "encoding":{"x":{"field":"w","type":"quantitative","scale":{"domain":[305.5,312],"nice":false,"zero":false},"axis":null},
   "y":{"field":"r","type":"quantitative","scale":{"domain":[-1,1],"nice":false,"zero":false},"axis":{"orient":"left","values":[-1,0,1],"tickSize":-12.5,"labels":false,"title":null}}}}
 ],
 "resolve":{"axis":{"y":"independent"}}},
{"width":329,"height":50,
 "layer":[
  {"data":{"values":[{"z":0}]},"mark":{"type":"rule","color":"#000","strokeWidth":2,"clip":false},
   "encoding":{"x":{"datum":305.5,"type":"quantitative","scale":{"domain":[305.5,312],"nice":false,"zero":false},"axis":null},"x2":{"datum":312},
   "y":{"datum":0,"type":"quantitative","scale":{"domain":[-1,1],"nice":false,"zero":false},"axis":{"orient":"left","values":[-0.5,0.5],"tickSize":-6,"labels":false,"domain":false,"title":null}}}},
  {"data":{"name":"F"},"mark":{"type":"line","color":"#0000ff","strokeWidth":1.7},
   "encoding":{"x":{"field":"w","type":"quantitative","scale":{"domain":[305.5,312],"nice":false,"zero":false},"axis":null},
   "y":{"field":"r","type":"quantitative","scale":{"domain":[-1,1],"nice":false,"zero":false},"axis":{"orient":"left","values":[-1,0,1],"tickSize":-12.5,"labels":false,"title":null}}}}
 ],
 "resolve":{"axis":{"y":"independent"}}},
{"width":330,"height":180,"data":{"name":"D"},
 "title":{"text":"D. 89 ppbv","anchor":"start","frame":"group","dx":27,"offset":0,"baseline":"alphabetic","dy":23.7},
 "layer":[
  {"mark":{"type":"line","color":"#ff0000","strokeWidth":1.5},
   "encoding":{"x":{"field":"w","type":"quantitative","scale":{"domain":[305.5,312],"nice":false,"zero":false},"axis":{"values":[306,307,308,309,310,311,312],"format":"d","tickSize":-12.5,"labelPadding":21,"title":null}},
   "y":{"field":"d","type":"quantitative","scale":{"domain":[0.11,2],"nice":false,"zero":false},"axis":{"values":[0.5,1,1.5,2],"format":".1f","tickSize":-12.5,"labelPadding":20,"title":"x 10⁻⁶","titleFontSize":16,"titleX":-44.5,"titleY":25,"titleAlign":"center","titleBaseline":"middle","titleAngle":-90}}}},
  {"mark":{"type":"line","color":"#000","strokeWidth":2},
   "encoding":{"x":{"field":"w","type":"quantitative"},"y":{"field":"f","type":"quantitative"}}}
 ]},
{"width":286,"height":180,"data":{"name":"E"},
 "title":{"text":"E. 156 ppbv","anchor":"start","frame":"group","dx":31,"offset":0,"baseline":"alphabetic","dy":23.7},
 "layer":[
  {"mark":{"type":"line","color":"#ff0000","strokeWidth":1.5},
   "encoding":{"x":{"field":"w","type":"quantitative","scale":{"domain":[305.5,312],"nice":false,"zero":false},"axis":{"orient":"bottom","values":[306,308,310,312],"format":"d","tickSize":-12.5,"labelPadding":21,"title":"Wavelength (nm)","titleFontSize":22,"titleX":137.5,"titleY":45,"titleBaseline":"alphabetic","titleAlign":"center"}},
   "y":{"field":"d","type":"quantitative","scale":{"domain":[0.24,2],"nice":false,"zero":false},"axis":{"values":[0.5,1,1.5,2],"format":".1f","tickSize":-12.5,"labelPadding":20,"title":null}}}},
  {"mark":{"type":"line","color":"#000","strokeWidth":2},
   "encoding":{"x":{"field":"w","type":"quantitative","scale":{"domain":[305.5,312],"nice":false,"zero":false},"axis":{"orient":"bottom","values":[307,309,311],"tickSize":-8,"labels":false,"domain":false,"title":null}},"y":{"field":"f","type":"quantitative"}}}
 ],
 "resolve":{"axis":{"x":"independent"}}},
{"width":329,"height":180,"data":{"name":"F"},
 "title":{"text":"F. 5 min average 91 ppbv","anchor":"start","frame":"group","dx":32,"offset":0,"baseline":"alphabetic","dy":23.7},
 "layer":[
  {"mark":{"type":"line","color":"#ff0000","strokeWidth":1.5},
   "encoding":{"x":{"field":"w","type":"quantitative","scale":{"domain":[305.5,312],"nice":false,"zero":false},"axis":{"values":[306,307,308,309,310,311,312],"format":"d","tickSize":-12.5,"labelPadding":21,"title":null}},
   "y":{"field":"d","type":"quantitative","scale":{"domain":[0.11,2],"nice":false,"zero":false},"axis":{"values":[0.5,1,1.5,2],"format":".1f","tickSize":-12.5,"labelPadding":20,"title":null}}}},
  {"mark":{"type":"line","color":"#000","strokeWidth":2},
   "encoding":{"x":{"field":"w","type":"quantitative"},"y":{"field":"f","type":"quantitative"}}}
 ]}
]
}
